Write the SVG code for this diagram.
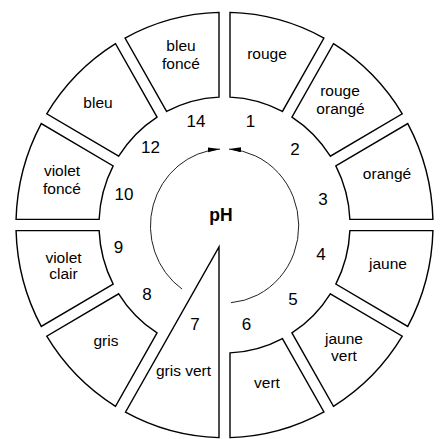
<svg xmlns="http://www.w3.org/2000/svg" width="441" height="439" viewBox="0 0 441 439">
<style>
.seg{fill:#fff;stroke:#000;stroke-width:1.4;stroke-linejoin:miter;vector-effect:non-scaling-stroke}
.lbl{font-family:"Liberation Sans",Arial,sans-serif;font-size:15.5px;fill:#000;text-anchor:middle}
.num{font-family:"Liberation Sans",Arial,sans-serif;font-size:17px;fill:#000;text-anchor:middle}
.ph{font-family:"Liberation Sans",Arial,sans-serif;font-size:17.5px;font-weight:bold;fill:#000;text-anchor:middle}
.arc{fill:none;stroke:#222;stroke-width:1}
</style>
<defs>
<marker id="ah" markerUnits="userSpaceOnUse" markerWidth="13" markerHeight="6" refX="12" refY="2.5" orient="auto">
<path d="M0,0 L12,2.5 L0,5 Z" fill="#000"/>
</marker>
</defs>
<rect width="441" height="439" fill="#fff"/>
<g id="ring" transform="translate(224.5,225) scale(1,1.02)">
<g id="seg-rouge"><path class="seg" d="M5.5,-125.38 L5.5,-208.43 A208.5 208.5 0 0 1 99.45,-183.26 L57.93,-111.33 A125.5 125.5 0 0 0 5.5,-125.38 Z"/></g>
<g id="seg-rouge-orange"><path class="seg" d="M67.45,-105.83 L108.98,-177.76 A208.5 208.5 0 0 1 177.76,-108.98 L105.83,-67.45 A125.5 125.5 0 0 0 67.45,-105.83 Z"/></g>
<g id="seg-orange"><path class="seg" d="M111.33,-57.93 L183.26,-99.45 A208.5 208.5 0 0 1 208.43,-5.5 L125.38,-5.5 A125.5 125.5 0 0 0 111.33,-57.93 Z"/></g>
<g id="seg-jaune"><path class="seg" d="M125.38,5.5 L208.43,5.5 A208.5 208.5 0 0 1 183.26,99.45 L111.33,57.93 A125.5 125.5 0 0 0 125.38,5.5 Z"/></g>
<g id="seg-jaune-vert"><path class="seg" d="M105.83,67.45 L177.76,108.98 A208.5 208.5 0 0 1 108.98,177.76 L67.45,105.83 A125.5 125.5 0 0 0 105.83,67.45 Z"/></g>
<g id="seg-vert"><path class="seg" d="M57.93,111.33 L99.45,183.26 A208.5 208.5 0 0 1 5.5,208.43 L5.5,125.38 A125.5 125.5 0 0 0 57.93,111.33 Z"/></g>
<g id="seg-gris-vert"><path class="seg" d="M-5.5,21.5 L-5.5,208.43 A208.5 208.5 0 0 1 -99.02,183.48 Z"/></g>
<g id="seg-gris"><path class="seg" d="M-67.45,105.83 L-108.98,177.76 A208.5 208.5 0 0 1 -177.76,108.98 L-105.83,67.45 A125.5 125.5 0 0 0 -67.45,105.83 Z"/></g>
<g id="seg-violet-clair"><path class="seg" d="M-111.33,57.93 L-183.26,99.45 A208.5 208.5 0 0 1 -208.43,5.5 L-125.38,5.5 A125.5 125.5 0 0 0 -111.33,57.93 Z"/></g>
<g id="seg-violet-fonce"><path class="seg" d="M-125.38,-5.5 L-208.43,-5.5 A208.5 208.5 0 0 1 -183.26,-99.45 L-111.33,-57.93 A125.5 125.5 0 0 0 -125.38,-5.5 Z"/></g>
<g id="seg-bleu"><path class="seg" d="M-105.83,-67.45 L-177.76,-108.98 A208.5 208.5 0 0 1 -108.98,-177.76 L-67.45,-105.83 A125.5 125.5 0 0 0 -105.83,-67.45 Z"/></g>
<g id="seg-bleu-fonce"><path class="seg" d="M-57.93,-111.33 L-99.45,-183.26 A208.5 208.5 0 0 1 -5.5,-208.43 L-5.5,-125.38 A125.5 125.5 0 0 0 -57.93,-111.33 Z"/></g>
</g>
<g id="connectors">
<path class="arc" d="M230.95,302.7 A74 77 0 0 0 229,149.1" marker-end="url(#ah)"/>
<path class="arc" d="M182.1,289.1 A74 77 0 0 1 220,149.1" marker-end="url(#ah)"/>
</g>
<g id="labels">
<text class="lbl" x="181" y="51">bleu</text>
<text class="lbl" x="181" y="69">foncé</text>
<text class="lbl" x="267" y="59">rouge</text>
<text class="lbl" x="340" y="96">rouge</text>
<text class="lbl" x="340.5" y="114">orangé</text>
<text class="lbl" x="387" y="179">orangé</text>
<text class="lbl" x="388" y="269">jaune</text>
<text class="lbl" x="344" y="344">jaune</text>
<text class="lbl" x="344" y="361">vert</text>
<text class="lbl" x="267" y="388">vert</text>
<text class="lbl" x="183.5" y="376">gris vert</text>
<text class="lbl" x="106" y="346">gris</text>
<text class="lbl" x="63.5" y="263">violet</text>
<text class="lbl" x="63.5" y="279">clair</text>
<text class="lbl" x="62" y="176">violet</text>
<text class="lbl" x="62" y="194">foncé</text>
<text class="lbl" x="98" y="108">bleu</text>
</g>
<g id="numbers">
<text class="num" x="196" y="127">14</text>
<text class="num" x="250.5" y="127">1</text>
<text class="num" x="150.5" y="153">12</text>
<text class="num" x="295" y="155">2</text>
<text class="num" x="323" y="205">3</text>
<text class="num" x="321" y="260">4</text>
<text class="num" x="293" y="305">5</text>
<text class="num" x="246.5" y="330">6</text>
<text class="num" x="195" y="330">7</text>
<text class="num" x="147" y="300">8</text>
<text class="num" x="118.5" y="253">9</text>
<text class="num" x="124" y="200">10</text>
</g>
<g id="center"><text class="ph" x="221" y="221">pH</text></g>
</svg>
